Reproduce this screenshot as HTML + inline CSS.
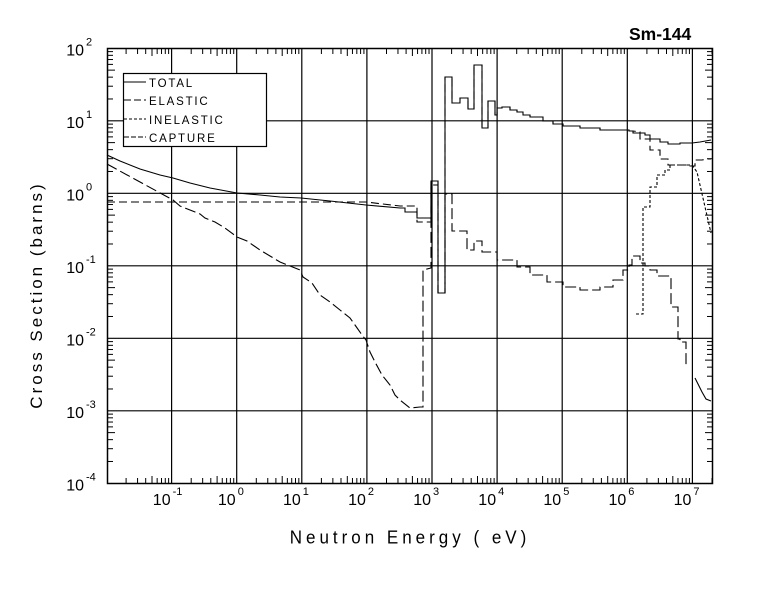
<!DOCTYPE html>
<html><head><meta charset="utf-8"><style>
html,body{margin:0;padding:0;background:#fff;}
svg{display:block;}
text{font-family:"Liberation Sans",sans-serif;fill:#000;}
</style></head><body>
<svg id="s" width="780" height="590" viewBox="0 0 780 590" xmlns="http://www.w3.org/2000/svg">
<rect width="780" height="590" fill="#fff"/>
<text x="629" y="40" font-size="17.5" font-weight="bold">Sm-144</text>
<g id="grid" stroke="#000" stroke-width="1.2" fill="none"></g>
<rect x="107.5" y="48.5" width="605" height="435" fill="none" stroke="#000" stroke-width="1.5"/>
<g id="lbl" font-size="16"></g>
<text x="410" y="543" font-size="17" text-anchor="middle" letter-spacing="4" transform="scale(1,1.1)" transform-origin="410 537">Neutron Energy ( eV)</text>
<text transform="translate(42,295) rotate(-90)" font-size="17" text-anchor="middle" letter-spacing="3">Cross Section (barns)</text>
<g fill="none" stroke="#000" stroke-width="1.1">
<polyline points="107,155 120,161 140,169 160,175 173,178 190,183 210,188 237,193 260,195 280,197 301,198 330,201 366,205 400,208 405,208 405,212 417,212 417,218 431,218 431,181 438,181 438,293 445,293 445,77 452,77 452,103 460,103 460,98 468,98 468,109 474,109 474,65 482,65 482,128 488,128 488,101 495,101 495,115 497,115 497,108 502,108 502,107 510,107 510,110 517,110 517,112 523,112 523,115 530,115 530,117 543,117 543,121 553,121 553,124 563,124 563,126 580,126 580,128 600,128 600,130 629,130 629,131 633,131 633,133 645,133 645,135 650,135 650,139 660,139 660,142 668,142 668,144 680,144 680,143 692,143 700,142 711,140"/>
<polyline stroke-dasharray="8 4" points="107,202 366,202 400,206 417,206 417,222 431,222 431,181 438,181 438,293 445,293 445,194 445,77 452,77 452,103 460,103 460,98 468,98 468,109 474,109 474,65 482,65 482,128 488,128 488,101 495,101 495,115 497,115 497,108 502,108 502,107 510,107 510,110 517,110 517,112 523,112 523,115 530,115 530,117 543,117 543,121 553,121 553,124 563,124 563,126 580,126 580,128 600,128 600,130 629,130 629,131 633,131 640,132 640,139 650,139 650,150 660,150 660,159 668,159 668,165 690,165 690,166 695,166 695,160 702,160 707,159 711,159"/>
<polyline stroke-dasharray="3 2" points="636,314 643,314 643,207 650,207 650,187 657,187 657,175 665,175 665,170 670,170 670,165 692,165 697,172 711,233"/>
<polyline stroke-dasharray="11 4" points="107,164 173,200 180,206 190,210 200,214 205,218 215,222 225,228 237,237 247,241 260,250 270,256 280,262 290,266 300,270 303,277 312,283 320,295 330,302 340,310 350,318 355,325 362,335 366,340 370,352 375,362 382,375 390,385 395,395 400,400 410,408 420,407 423,407 423,270 431,268 431,185 438,185 438,293 445,293 445,194 452,194 452,231 467,231 467,250 474,250 474,241 482,241 482,252 497,252 497,260 517,260 517,267 530,267 530,275 547,275 547,282 563,282 563,287 580,287 580,290 600,290 600,287 613,287 613,280 623,280 623,270 629,270 629,265 632,265 632,256 640,256 640,263 645,263 645,266 650,266 650,270 657,270 657,276 665,276 671,276 671,307 678,307 678,339 680,339 680,342 686,342 686,366"/>
<polyline points="695,378 702,392 706,399 711,401"/>
</g>
<rect x="123.5" y="73.5" width="143" height="73" fill="#fff" stroke="#000" stroke-width="1.2"/>
<g stroke="#000" stroke-width="1.1">
<line x1="124" y1="82" x2="146" y2="82"/>
<line x1="124" y1="100" x2="146" y2="100" stroke-dasharray="7 3"/>
<line x1="124" y1="119" x2="146" y2="119" stroke-dasharray="3 2"/>
<line x1="124" y1="137" x2="146" y2="137" stroke-dasharray="5 2"/>
</g>
<g font-size="11.5" letter-spacing="1.8">
<text x="149" y="87">TOTAL</text>
<text x="149" y="105">ELASTIC</text>
<text x="149" y="124">INELASTIC</text>
<text x="149" y="142">CAPTURE</text>
</g>
</svg>
<script>
(function(){
var ns="http://www.w3.org/2000/svg";
var g=document.getElementById('grid'),L=document.getElementById('lbl');
function ln(x1,y1,x2,y2,w){var l=document.createElementNS(ns,'line');l.setAttribute('x1',x1);l.setAttribute('y1',y1);l.setAttribute('x2',x2);l.setAttribute('y2',y2);if(w)l.setAttribute('stroke-width',w);g.appendChild(l);}
function tx(x,y,s,fs,anc){var t=document.createElementNS(ns,'text');t.setAttribute('x',x);t.setAttribute('y',y);t.setAttribute('font-size',fs);if(anc)t.setAttribute('text-anchor',anc);t.textContent=s;L.appendChild(t);}
function X(k){return 432+65.1*(k-3);}
function Y(k){return 193.3-72.5*k;}
for(var k=-1;k<=7;k++){var x=X(k);ln(x,48,x,484);tx(x-1,505,"10","16","end");tx(x+1,495,String(k),"11");}
for(var k=-2;k<=7;k++){for(var m=2;m<=9;m++){var x=X(k+Math.log10(m));if(x<108||x>712)continue;var h=(m==5)?7:5;ln(x,49,x,49+h,1);ln(x,483,x,483-h,1);}}
for(var k=-4;k<=2;k++){var y=Y(k);if(k>-4&&k<2)ln(107,y,713,y);tx(84,y+7,"10","16","end");tx(86,y-3,String(k),"11");}
for(var k=-4;k<2;k++){for(var m=2;m<=9;m++){var y=Y(k+Math.log10(m));var h=(m==5)?7:5;ln(108,y,108+h,y,1);ln(712,y,712-h,y,1);}}
})();
</script>
</body></html>
